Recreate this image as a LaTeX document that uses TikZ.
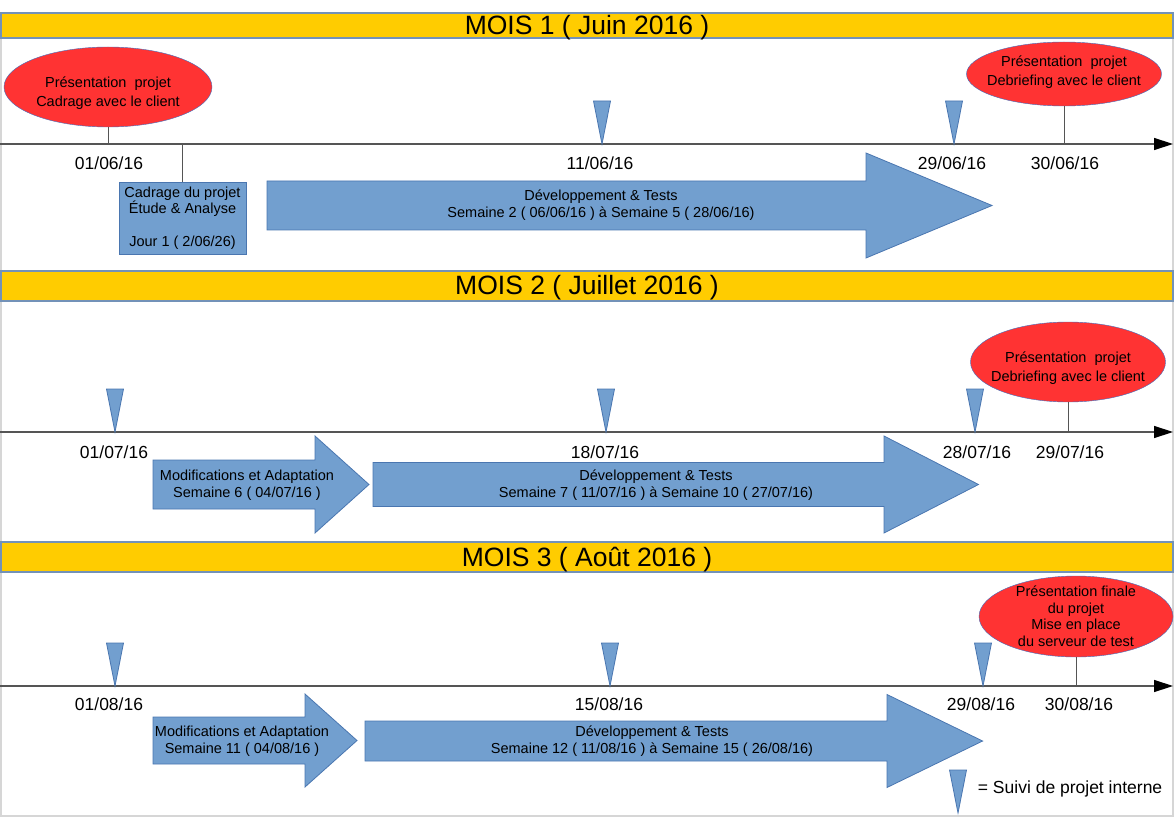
\documentclass[tikz,border=0pt]{standalone}
\usepackage{fontspec}
\setmainfont{Liberation Sans}
\usetikzlibrary{arrows.meta,shapes.geometric}
\definecolor{moisjaune}{HTML}{FFCC00}
\definecolor{barrebord}{HTML}{7392B8}
\definecolor{cadregris}{HTML}{D6D6D6}
\definecolor{jalonrouge}{HTML}{FF3333}
\definecolor{ellbleu}{HTML}{3F6FC0}
\definecolor{tachebleu}{HTML}{729FCF}
\definecolor{tachebord}{HTML}{4A76B0}
\definecolor{axegris}{HTML}{555555}

\begin{document}
\begin{tikzpicture}[x=1pt,y=-1pt,
    cadre/.style={draw=cadregris,line width=1.5pt},
    barre/.style={draw=barrebord,fill=moisjaune,line width=1.2pt},
    titre/.style={font=\fontsize{26.5}{30}\selectfont},
    axe/.style={draw=axegris,line width=1.3pt,-{Triangle[length=19pt,width=12pt,color=black]}},
    jalon/.style={ellipse,draw=ellbleu,fill=jalonrouge,inner sep=0pt},
    jalontexte/.style={align=center,font=\fontsize{14.5}{19}\selectfont},
    tache/.style={draw=tachebord,fill=tachebleu,line width=0.8pt},
    texte/.style={align=center,font=\fontsize{14.5}{17}\selectfont},
    date/.style={font=\fontsize{17.5}{20}\selectfont},
    trait/.style={draw=axegris,line width=0.8pt}]
    \useasboundingbox (0,0) rectangle (1174,818);
    \draw[cadre] (1,13) rectangle (1173,816);
    % bandeaux des mois
    \draw[barre] (1,13) rectangle (1173,38);
    \draw[barre] (1,271) rectangle (1173,301);
    \draw[barre] (1,542) rectangle (1173,572);
    \node[titre] (moisA) at (587,27.5) {MOIS 1 ( Juin 2016 )};
    \node[titre] (moisB) at (587,288) {MOIS 2 ( Juillet 2016 )};
    \node[titre] (moisC) at (587,559.5) {MOIS 3 ( Août 2016 )};
    % axes
    \coordinate (a1) at (0,144);  \coordinate (b1) at (1173,144);
    \coordinate (a2) at (0,432);  \coordinate (b2) at (1173,432);
    \coordinate (a3) at (0,686);  \coordinate (b3) at (1173,686);
    \draw[axe] (a1) -- (b1);
    \draw[axe] (a2) -- (b2);
    \draw[axe] (a3) -- (b3);
    % fleches des taches
    \foreach \xa/\xb/\xc/\yc/\s/\h in {267/866/992/205.5/24.5/52.5, 153/315/369/484.5/24.5/48.5,
        373/884/978.5/484.5/22/48.5, 153/305/357/740.5/23.5/46.5, 365/887/982.6/741/20/46.5}
        \draw[tache] (\xa,\yc-\s) -- (\xb,\yc-\s) -- (\xb,\yc-\h) -- (\xc,\yc)
            -- (\xb,\yc+\h) -- (\xb,\yc+\s) -- (\xa,\yc+\s) -- cycle;
    \node[texte] (devA) at (601,205) {Développement \& Tests\\Semaine 2 ( 06/06/16 ) à Semaine 5 ( 28/06/16)};
    \node[texte] (modB) at (247,485) {Modifications et Adaptation\\Semaine 6 ( 04/07/16 )};
    \node[texte] (devB) at (656,485) {Développement \& Tests\\Semaine 7 ( 11/07/16 ) à Semaine 10 ( 27/07/16)};
    \node[texte] (modC) at (242,741) {Modifications et Adaptation\\Semaine 11 ( 04/08/16 )};
    \node[texte] (devC) at (652,741) {Développement \& Tests\\Semaine 12 ( 11/08/16 ) à Semaine 15 ( 26/08/16)};
    \node[tache,texte,font=\fontsize{14.5}{16.5}\selectfont,minimum width=127pt,minimum height=72pt] (cadrage)
        at (182.5,218) {Cadrage du projet\\Étude \& Analyse\\[16.5pt]Jour 1 ( 2/06/26)};
    \draw[trait] (cadrage.north) -- (cadrage.north |- a1);
    % jalons client
    \node[jalon,minimum width=208pt,minimum height=80pt] (jA) at (108,87) {};
    \node[jalon,minimum width=195pt,minimum height=64pt] (jB) at (1064,74) {};
    \node[jalon,minimum width=195pt,minimum height=80pt] (jC) at (1068,362) {};
    \node[jalon,minimum width=194pt,minimum height=81pt] (jD) at (1076,616.5) {};
    \node[jalontexte] (tA) at (108,93.5) {Présentation\ \ projet\\Cadrage avec le client};
    \node[jalontexte] (tB) at (1064,72) {Présentation\ \ projet\\Debriefing avec le client};
    \node[jalontexte] (tC) at (1068,368) {Présentation\ \ projet\\Debriefing avec le client};
    \node[jalontexte,font=\fontsize{14.5}{16.5}\selectfont] (tD) at (1076,616)
        {Présentation finale\\du projet\\Mise en place\\du serveur de test};
    \draw[trait] (jA.south) -- (jA.south |- a1);
    \draw[trait] (jB.south) -- (jB.south |- b1);
    \draw[trait] (jC.south) -- (jC.south |- b2);
    \draw[trait] (jD.south) -- (jD.south |- b3);
    % suivis internes
    \foreach \x/\y in {602/144,954/144,115/432,606/432,975/432,115/686,610/686,983/686,958/813}
        \draw[tache] (\x-8.5,\y-43) -- (\x+8.5,\y-43) -- (\x,\y) -- cycle;
    % dates
    \foreach \x/\y/\d [count=\i] in {109/163/{01/06/16},600/163/{11/06/16},952/163/{29/06/16},1065/163/{30/06/16},
        114/452/{01/07/16},605/452/{18/07/16},977/452/{28/07/16},1070/452/{29/07/16},
        109/704/{01/08/16},609/704/{15/08/16},981/704/{29/08/16},1079/704/{30/08/16}}
        \node[date] (date\i) at (\x,\y) {\d};
    \node[date,anchor=west,inner sep=0pt] (legende) at (977.7,789) {= Suivi de projet interne};
\end{tikzpicture}
\end{document}
